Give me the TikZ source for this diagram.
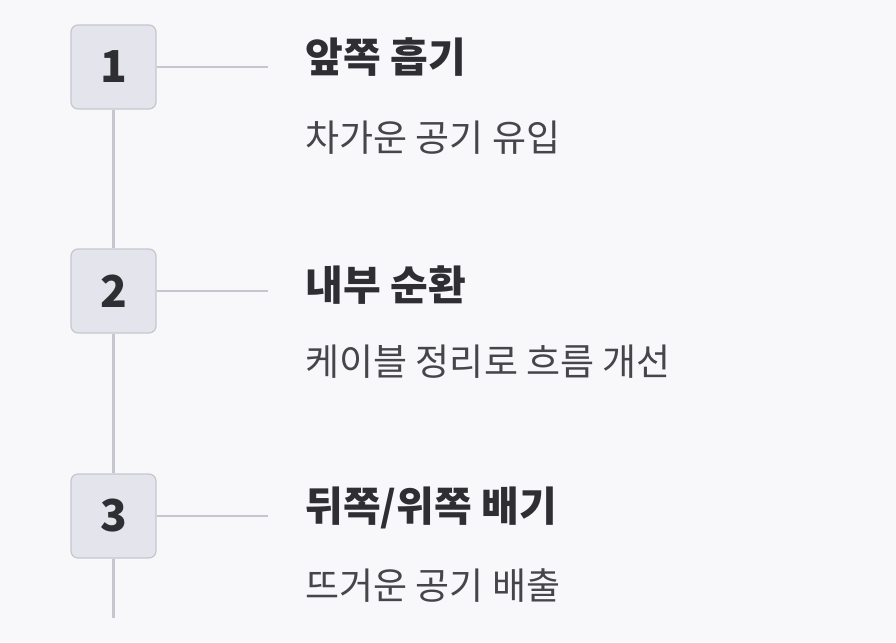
\documentclass[tikz,border=0pt]{standalone}
\usepackage{fontspec}
\setmainfont{Noto Sans CJK KR}
\newfontfamily\kb{Noto Sans CJK KR Black}
\definecolor{bg}{HTML}{F8F8FB}
\definecolor{boxf}{HTML}{E4E4EC}
\definecolor{boxd}{HTML}{C6C6CE}
\definecolor{ink}{HTML}{2E2E33}
\definecolor{sub}{HTML}{45454A}
\tikzset{x=1pt,y=-1pt,
 numbox/.style={draw=boxd,fill=boxf,line width=1.2pt,rounded corners=7pt,minimum width=85pt,minimum height=84pt,font=\fontsize{44}{44}\selectfont\kb,text=ink},
 ttl/.style={anchor=west,font=\fontsize{41}{41}\selectfont\kb,text=ink},
 subt/.style={anchor=west,font=\fontsize{37}{37}\selectfont,text=sub},
 conn/.style={draw=boxd,line width=2.5pt}}
\begin{document}
\begin{tikzpicture}
\fill[bg] (0,0) rectangle (896,642);
\useasboundingbox (0,0) rectangle (896,642);
\coordinate (end) at (113.5,618);
\coordinate (h1) at (268,67);
\coordinate (h2) at (268,291);
\coordinate (h3) at (268,516);
\node[numbox] (b1) at (113.5,67) {1};
\node[numbox] (b2) at (113.5,291) {2};
\node[numbox] (b3) at (113.5,516) {3};
\draw[conn] (b1.south) -- (b2.north);
\draw[conn] (b2.south) -- (b3.north);
\draw[conn] (b3.south) -- (end);
\draw[conn] (b1.east) -- (h1);
\draw[conn] (b2.east) -- (h2);
\draw[conn] (b3.east) -- (h3);
\node[ttl] (t1) at (302,57) {앞쪽 흡기};
\node[subt] (s1) at (302,138) {차가운 공기 유입};
\node[ttl] (t2) at (302,285) {내부 순환};
\node[subt] (s2) at (302,362) {케이블 정리로 흐름 개선};
\node[ttl] (t3) at (302,508) {뒤쪽/위쪽 배기};
\node[subt] (s3) at (302,586) {뜨거운 공기 배출};
\end{tikzpicture}
\end{document}
